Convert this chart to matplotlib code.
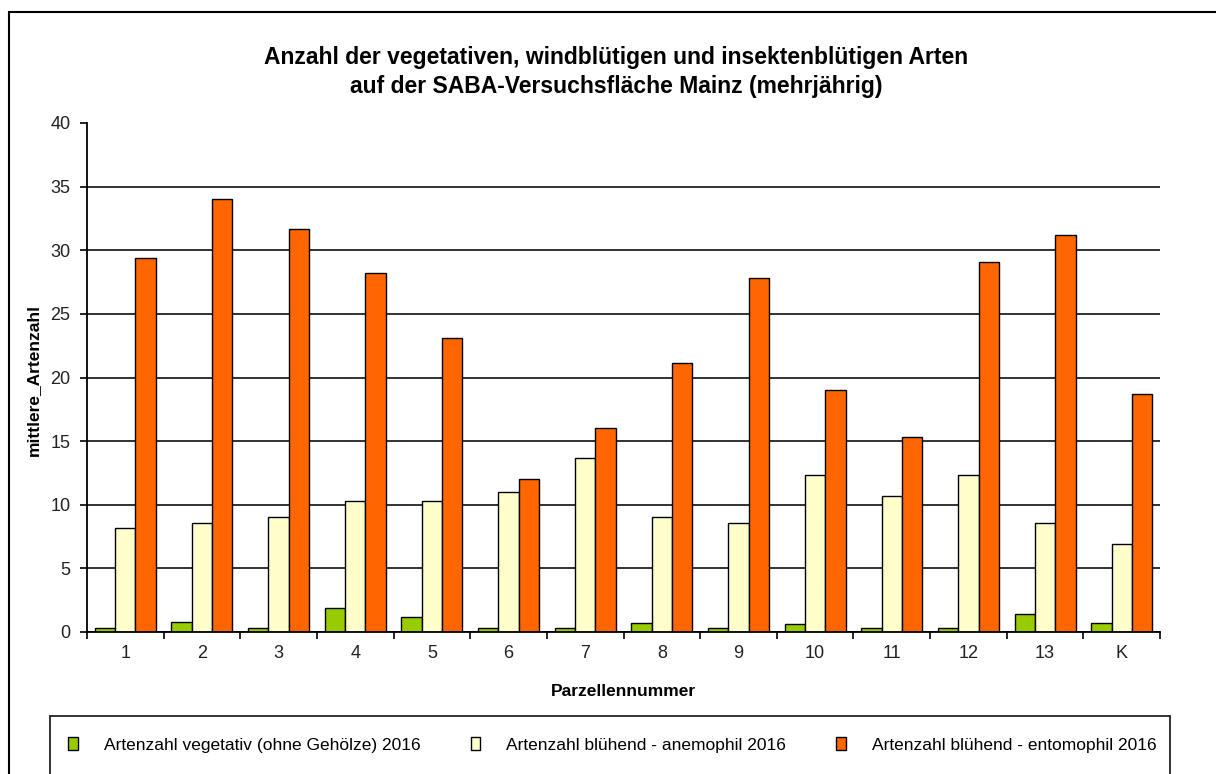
import matplotlib.pyplot as plt
import numpy as np
from matplotlib.patches import Rectangle

plt.rcParams['font.family'] = ['Liberation Sans', 'DejaVu Sans']

parzellen = ['1', '2', '3', '4', '5', '6', '7', '8', '9', '10', '11', '12', '13', 'K']
vegetativ = [0.35, 0.8, 0.35, 1.9, 1.2, 0.35, 0.35, 0.7, 0.35, 0.6, 0.35, 0.35, 1.4, 0.7]
anemophil = [8.2, 8.55, 9.0, 10.33, 10.33, 11.0, 13.67, 9.0, 8.55, 12.33, 10.7, 12.33, 8.55, 6.9]
entomophil = [29.4, 34.0, 31.67, 28.2, 23.1, 12.0, 16.05, 21.15, 27.83, 19.0, 15.33, 29.05, 31.2, 18.7]

labels = ['Artenzahl vegetativ (ohne Gehölze) 2016',
          'Artenzahl blühend - anemophil 2016',
          'Artenzahl blühend - entomophil 2016']
colors = ['#99CC00', '#FFFFCC', '#FF6600']

fig = plt.figure(figsize=(12.16, 7.74), dpi=100)
ax = fig.add_axes([87/1216, 1-632/774, (1160-87)/1216, (632-123)/774])

x = np.arange(len(parzellen))
w = 0.265
bars = []
for i, (vals, col, lab) in enumerate(zip([vegetativ, anemophil, entomophil], colors, labels)):
    b = ax.bar(x + (i-1)*w, vals, width=w, color=col, edgecolor='black', linewidth=1.0,
               label=lab, zorder=3)
    bars.append(b)

ax.set_xlim(-0.5, len(parzellen)-0.5)
ax.set_ylim(0, 40)
ax.set_yticks(np.arange(0, 41, 5))
ax.set_xticks(x)
ax.set_xticklabels(parzellen)
ax.set_xticks(np.arange(-0.5, len(parzellen)), minor=True)
ax.tick_params(axis='x', which='major', length=0, pad=9, labelsize=13, colors='#222222')
ax.tick_params(axis='x', which='minor', length=5, width=1.2, direction='out')
ax.tick_params(axis='y', length=5, width=1.2, pad=7, labelsize=13, colors='#222222')
ax.tick_params(axis='both', which='both', color='black')

ax.yaxis.grid(True, color='#222222', linewidth=1.3, zorder=0)
ax.get_ygridlines()[-1].set_visible(False)
ax.set_axisbelow(True)
for s in ['top', 'right']:
    ax.spines[s].set_visible(False)
for s in ['left', 'bottom']:
    ax.spines[s].set_linewidth(1.3)
    ax.spines[s].set_zorder(4)

fig.text(33/1216, 1-380/774, 'mittlere_Artenzahl', rotation=90, ha='center', va='center',
         fontsize=12.5, fontweight='bold')
fig.text(623/1216, 1-691/774, 'Parzellennummer', ha='center', va='center',
         fontsize=12.5, fontweight='bold')
fig.text(616/1216, 1-72/774,
         'Anzahl der vegetativen, windblütigen und insektenblütigen Arten\n'
         'auf der SABA-Versuchsfläche Mainz (mehrjährig)',
         ha='center', va='center', fontsize=16.5, fontweight='bold', linespacing=1.3)

# outer chart frame and legend box
fig.add_artist(Rectangle((9/1216, -0.1), 1.2, 1-12/774+0.1, transform=fig.transFigure,
                         fill=False, edgecolor='black', linewidth=1.5))
fig.add_artist(Rectangle((50/1216, -0.1), 1120/1216, 1-716/774+0.1, transform=fig.transFigure,
                         fill=False, edgecolor='#222222', linewidth=1.3))

fig.legend(handles=bars, labels=labels, ncol=3, frameon=False,
           loc='center left', bbox_to_anchor=(68/1216, 1-745/774),
           borderpad=0, borderaxespad=0, fontsize=12.5,
           handlelength=0.55, handleheight=0.8, handletextpad=1.5, columnspacing=2.9)

fig.savefig('out.png', dpi=100)
